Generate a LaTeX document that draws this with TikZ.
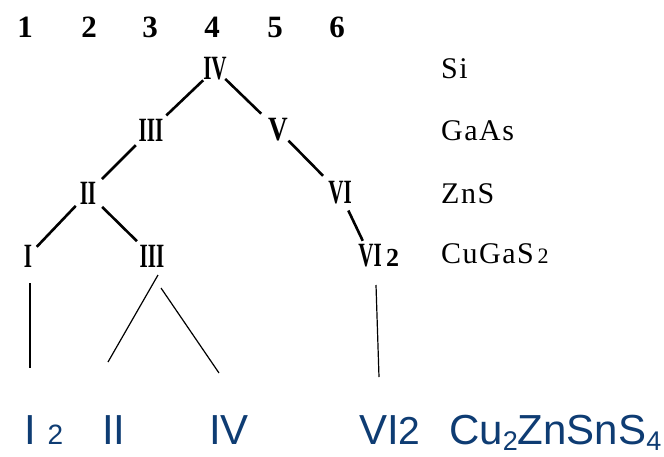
\documentclass[tikz,border=0pt]{standalone}
\usepackage{fontspec}
\usepackage{graphicx}
\setmainfont{Liberation Serif}
\newfontfamily\labfont[LetterSpace=5]{Liberation Serif}
\newfontfamily\bsans{Liberation Sans}
\definecolor{cztsblue}{RGB}{14,60,115}
\newcommand{\rnum}[2][0.62]{\scalebox{#1}[1]{#2}}
\tikzset{
  digit/.style={inner sep=0pt, font=\fontsize{31}{31}\selectfont\bfseries},
  rn/.style={inner sep=0pt, font=\fontsize{34}{34}\selectfont\bfseries},
  comp/.style={inner sep=0pt, anchor=base west, font=\fontsize{30}{30}\labfont},
  blab/.style={inner sep=0pt, anchor=base west, text=cztsblue, font=\fontsize{42}{42}\bsans},
  tline/.style={line width=2.6pt},
  bline/.style={line width=1.2pt},
}
\begin{document}
\begin{tikzpicture}[x=1pt,y=-1pt]
\useasboundingbox[fill=white] (0,0) rectangle (664,456);
% column numbers
\node[digit] (d1) at (25,27) {1};
\node[digit] (d2) at (89,27) {2};
\node[digit] (d3) at (150,27) {3};
\node[digit] (d4) at (212,27) {4};
\node[digit] (d5) at (275,27) {5};
\node[digit] (d6) at (337,27) {6};
% tree nodes
\node[rn] (IV) at (215,69) {\rnum{IV}};
\node[rn] (IIIa) at (151,130) {\rnum{III}};
\node[rn] (V) at (278,130) {\rnum[0.8]{V}};
\node[rn] (II) at (88,193) {\rnum{II}};
\node[rn] (VI) at (340,193) {\rnum{VI}};
\node[rn] (I) at (28,256) {\rnum{I}};
\node[rn] (IIIb) at (152,256) {\rnum{III}};
\node[rn] (VIb) at (370,256) {\rnum{VI}\rlap{\fontsize{26}{26}\selectfont\,2}};
% tree lines
\draw[tline, shorten <=16.4pt, shorten >=21.2pt] (IV.center) -- (IIIa.center);
\draw[tline, shorten <=14.3pt, shorten >=23.4pt] (IV.center) -- (V.center);
\draw[tline, shorten <=21.4pt, shorten >=19.8pt] (IIIa.center) -- (II.center);
\draw[tline, shorten <=15pt, shorten >=24.2pt] (V.center) -- (VI.center);
\draw[tline, shorten <=17.8pt, shorten >=12.7pt] (II.center) -- (I.center);
\draw[tline, shorten <=19.8pt, shorten >=21.2pt] (II.center) -- (IIIb.center);
\draw[tline, shorten <=19.4pt, shorten >=16.8pt] (VI.center) -- (VIb.center);
% compound labels
\node[comp] (si) at (441,78) {Si};
\node[comp] (gaas) at (441,140) {GaAs};
\node[comp] (zns) at (441,203) {ZnS};
\node[comp] (cugas) at (441,263) {CuGaS{\fontsize{22}{22}\selectfont\,2}};
% bottom labels
\node[blab] (bI) at (24,444) {I {\fontsize{28}{28}\selectfont 2}};
\node[blab] (bII) at (102,444) {II};
\node[blab] (bIV) at (209,444) {IV};
\node[blab] (bVI) at (359,444) {VI{\fontsize{39}{39}\selectfont 2}};
\node[blab] (czts) at (449,444) {Cu\raisebox{-6pt}{\fontsize{27}{27}\selectfont 2}ZnSnS\raisebox{-6pt}{\fontsize{27}{27}\selectfont 4}};
% bottom connectors
\coordinate (a1) at (30,283); \coordinate (b1) at (30,368);
\coordinate (a2) at (158,275); \coordinate (b2) at (108,362);
\coordinate (a3) at (161,288); \coordinate (b3) at (219,373);
\coordinate (a4) at (376,285); \coordinate (b4) at (379,377);
\draw[bline] (a1) -- (b1);
\draw[bline] (a2) -- (b2);
\draw[bline] (a3) -- (b3);
\draw[bline] (a4) -- (b4);
\end{tikzpicture}
\end{document}
